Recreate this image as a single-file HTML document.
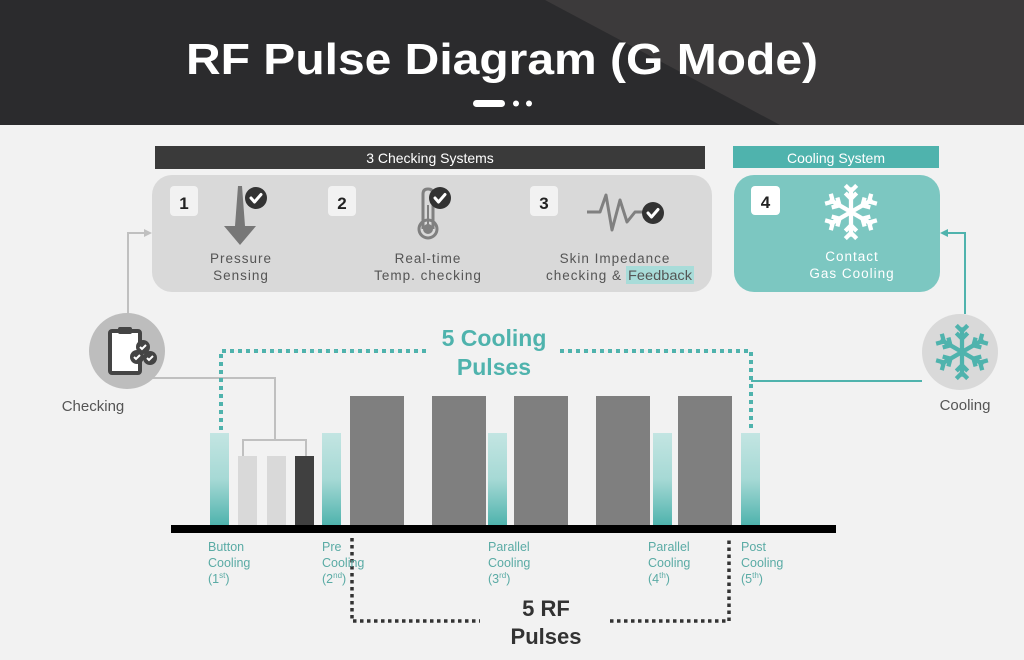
<!DOCTYPE html>
<html><head><meta charset="utf-8"><style>
html,body{margin:0;padding:0;background:#f2f2f2;}
svg{display:block;}
text{font-family:"Liberation Sans",sans-serif;}
</style></head><body>
<svg width="1024" height="660" viewBox="0 0 1024 660" xmlns="http://www.w3.org/2000/svg">
<defs>
<linearGradient id="tg" x1="0" y1="0" x2="0" y2="1">
<stop offset="0" stop-color="#c3e5e2"/><stop offset="0.5" stop-color="#a6d9d5"/><stop offset="1" stop-color="#4fb3ad"/>
</linearGradient>
<g id="chk"><circle r="11" fill="#333"/><path d="M-5,0 L-1.5,4 L5,-3.5" fill="none" stroke="#fff" stroke-width="3" stroke-linecap="round" stroke-linejoin="round"/></g>
<g id="arm"><line x1="0" y1="0" x2="0" y2="-26" /><polyline points="-6,-20 0,-14 6,-20" fill="none"/><polyline points="-6,-28 0,-22 6,-28" fill="none"/></g>
<g id="snow"><use href="#arm"/><use href="#arm" transform="rotate(60)"/><use href="#arm" transform="rotate(120)"/><use href="#arm" transform="rotate(180)"/><use href="#arm" transform="rotate(240)"/><use href="#arm" transform="rotate(300)"/></g>
</defs>
<rect width="1024" height="660" fill="#f2f2f2"/>
<rect width="1024" height="125" fill="#2b2b2d"/>
<path d="M545,0 L1024,0 L1024,125 L780,125 Q620,40 545,0 Z" fill="#3c3a3b"/>
<text x="502" y="74" font-size="44" font-weight="bold" fill="#fff" text-anchor="middle" textLength="632" lengthAdjust="spacingAndGlyphs">RF Pulse Diagram (G Mode)</text>
<rect x="473" y="100" width="32" height="7" rx="3.5" fill="#fff"/>
<circle cx="516" cy="103.5" r="3" fill="#fff"/><circle cx="529" cy="103.5" r="3" fill="#fff"/>

<rect x="155" y="146" width="550" height="23" fill="#3a3a3a"/>
<text x="430" y="163" font-size="14" fill="#fff" text-anchor="middle">3 Checking Systems</text>
<rect x="152" y="175" width="560" height="117" rx="20" fill="#d9d9d9"/>
<rect x="170" y="186" width="28" height="30" rx="4" fill="#f2f2f2"/>
<text x="184" y="209" font-size="17" font-weight="bold" fill="#222" text-anchor="middle">1</text>
<rect x="328" y="186" width="28" height="30" rx="4" fill="#f2f2f2"/>
<text x="342" y="209" font-size="17" font-weight="bold" fill="#222" text-anchor="middle">2</text>
<rect x="530" y="186" width="28" height="30" rx="4" fill="#f2f2f2"/>
<text x="544" y="209" font-size="17" font-weight="bold" fill="#222" text-anchor="middle">3</text>
<path d="M238,186 L242,186 L245,226 L256,226 L240,245 L224,226 L235,226 Z" fill="#777"/>
<use href="#chk" x="256" y="198"/>
<path d="M423,229 L423,194 Q423,189 428,189 Q433,189 433,194 L433,229" fill="none" stroke="#808080" stroke-width="3"/>
<circle cx="428" cy="229" r="9" fill="none" stroke="#808080" stroke-width="3"/>
<circle cx="428" cy="229" r="5" fill="#808080"/>
<line x1="428" y1="205" x2="428" y2="225" stroke="#808080" stroke-width="2"/>
<use href="#chk" x="440" y="198"/>
<polyline points="587,212 600,212 606,195 612,230 620,200 627,222 635,212 645,212" fill="none" stroke="#808080" stroke-width="3" stroke-linejoin="round"/>
<use href="#chk" x="653" y="213"/>
<g font-size="13.5" fill="#555" text-anchor="middle" letter-spacing="1">
<text x="241" y="263">Pressure</text><text x="241" y="280">Sensing</text>
<text x="428" y="263">Real-time</text><text x="428" y="280">Temp. checking</text>
<text x="615" y="263">Skin Impedance</text>
</g>
<rect x="626" y="266" width="68" height="18" fill="#a8dcd9"/>
<text x="622" y="280" font-size="13.5" fill="#555" text-anchor="end" letter-spacing="1">checking &amp;</text>
<text x="660" y="280" font-size="13.5" fill="#555" text-anchor="middle" textLength="64" lengthAdjust="spacingAndGlyphs">Feedback</text>

<rect x="733" y="146" width="206" height="22" fill="#4fb3ad"/>
<text x="836" y="163" font-size="14" fill="#fff" text-anchor="middle">Cooling System</text>
<rect x="734" y="175" width="206" height="117" rx="20" fill="#7cc7c1"/>
<rect x="751" y="186" width="29" height="29" rx="4" fill="#fff"/>
<text x="765.5" y="208" font-size="17" font-weight="bold" fill="#222" text-anchor="middle">4</text>
<g transform="translate(851,212) scale(0.95)" stroke="#fff" stroke-width="4.5" stroke-linecap="butt"><use href="#snow"/></g>
<text x="852" y="261" font-size="13.5" fill="#fff" text-anchor="middle" letter-spacing="1">Contact</text>
<text x="852" y="278" font-size="13.5" fill="#fff" text-anchor="middle" letter-spacing="1">Gas Cooling</text>

<polyline points="128,314 128,233 146,233" fill="none" stroke="#c0c0c0" stroke-width="2"/>
<path d="M152,233 L144,229 L144,237 Z" fill="#c0c0c0"/>
<polyline points="965,314 965,233 946,233" fill="none" stroke="#4fb3ad" stroke-width="2"/>
<path d="M940,233 L948,229 L948,237 Z" fill="#4fb3ad"/>
<polyline points="152,378 275,378 275,440" fill="none" stroke="#c0c0c0" stroke-width="2"/>
<polyline points="243,456 243,440 306,440 306,456" fill="none" stroke="#c0c0c0" stroke-width="2"/>
<line x1="922" y1="381" x2="751" y2="381" stroke="#4fb3ad" stroke-width="2"/>

<circle cx="127" cy="351" r="38" fill="#bdbdbd"/>
<rect x="110" y="331" width="30" height="42" rx="2" fill="#fff" stroke="#444" stroke-width="4"/>
<rect x="118" y="327" width="14" height="7" rx="2" fill="#444"/>
<circle cx="143" cy="347" r="7" fill="#444"/><circle cx="137" cy="357" r="7" fill="#444"/><circle cx="150" cy="358" r="7" fill="#444"/>
<g fill="none" stroke="#fff" stroke-width="2"><path d="M140,347 l2,2 l4,-4"/><path d="M134,357 l2,2 l4,-4"/><path d="M147,358 l2,2 l4,-4"/></g>
<text x="93" y="411" font-size="15" fill="#555" text-anchor="middle">Checking</text>
<circle cx="960" cy="352" r="38" fill="#d9d9d9"/>
<g transform="translate(962,352) scale(0.95)" stroke="#4fb3ad" stroke-width="4.5"><use href="#snow"/></g>
<text x="965" y="410" font-size="15" fill="#555" text-anchor="middle">Cooling</text>

<g fill="none" stroke="#4fb3ad" stroke-width="4" stroke-dasharray="4 4">
<polyline points="221,430 221,351 430,351"/>
<polyline points="560,351 751,351 751,430"/>
</g>
<text x="494" y="346" font-size="23" font-weight="bold" fill="#4fb3ad" text-anchor="middle">5 Cooling</text>
<text x="494" y="375" font-size="23" font-weight="bold" fill="#4fb3ad" text-anchor="middle">Pulses</text>

<rect x="210" y="433" width="19" height="92" fill="url(#tg)"/>
<rect x="238" y="456" width="19" height="69" fill="#d9d9d9"/>
<rect x="267" y="456" width="19" height="69" fill="#d9d9d9"/>
<rect x="295" y="456" width="19" height="69" fill="#404040"/>
<rect x="322" y="433" width="19" height="92" fill="url(#tg)"/>
<rect x="350" y="396" width="54" height="129" fill="#7f7f7f"/>
<rect x="432" y="396" width="54" height="129" fill="#7f7f7f"/>
<rect x="488" y="433" width="19" height="92" fill="url(#tg)"/>
<rect x="514" y="396" width="54" height="129" fill="#7f7f7f"/>
<rect x="596" y="396" width="54" height="129" fill="#7f7f7f"/>
<rect x="653" y="433" width="19" height="92" fill="url(#tg)"/>
<rect x="678" y="396" width="54" height="129" fill="#7f7f7f"/>
<rect x="741" y="433" width="19" height="92" fill="url(#tg)"/>
<rect x="171" y="525" width="665" height="8" fill="#000"/>

<g fill="none" stroke="#333" stroke-width="3.5" stroke-dasharray="3.5 3.5">
<polyline points="352,538 352,621 480,621"/>
<polyline points="610,621 729,621 729,538"/>
</g>
<text x="546" y="616" font-size="22" font-weight="bold" fill="#333" text-anchor="middle">5 RF</text>
<text x="546" y="644" font-size="22" font-weight="bold" fill="#333" text-anchor="middle">Pulses</text>

<g font-size="12.5" fill="#5aaba5">
<text x="208" y="551">Button</text><text x="208" y="567">Cooling</text><text x="208" y="583">(1<tspan font-size="8" dy="-5">st</tspan><tspan dy="5">)</tspan></text>
<text x="322" y="551">Pre</text><text x="322" y="567">Cooling</text><text x="322" y="583">(2<tspan font-size="8" dy="-5">nd</tspan><tspan dy="5">)</tspan></text>
<text x="488" y="551">Parallel</text><text x="488" y="567">Cooling</text><text x="488" y="583">(3<tspan font-size="8" dy="-5">rd</tspan><tspan dy="5">)</tspan></text>
<text x="648" y="551">Parallel</text><text x="648" y="567">Cooling</text><text x="648" y="583">(4<tspan font-size="8" dy="-5">th</tspan><tspan dy="5">)</tspan></text>
<text x="741" y="551">Post</text><text x="741" y="567">Cooling</text><text x="741" y="583">(5<tspan font-size="8" dy="-5">th</tspan><tspan dy="5">)</tspan></text>
</g>
</svg>
</body></html>
